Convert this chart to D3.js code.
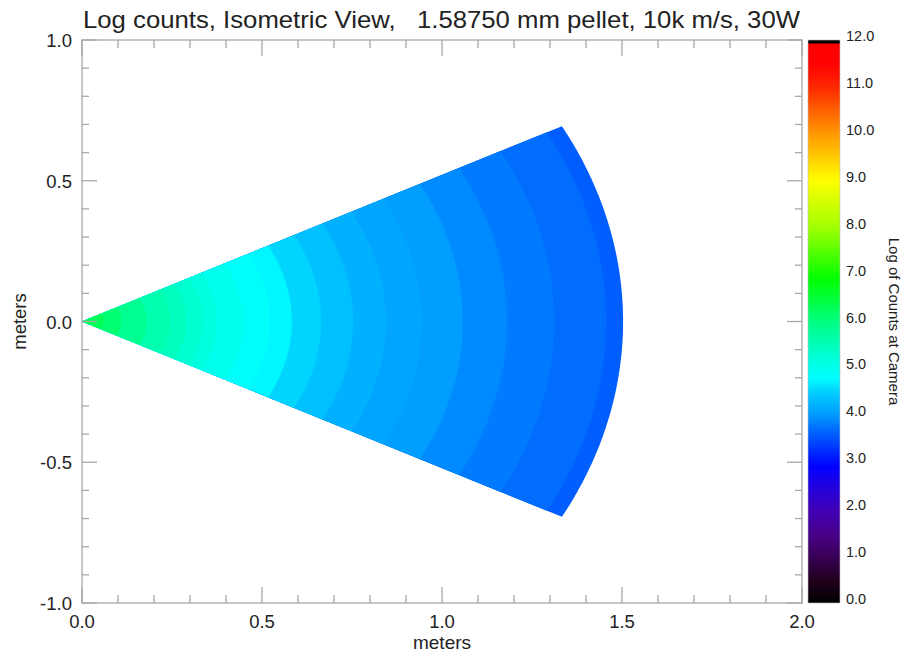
<!DOCTYPE html>
<html>
<head>
<meta charset="utf-8">
<script src="https://cdn.jsdelivr.net/npm/d3@7"></script>
<style>
  body { margin: 0; background: #fff; }
  text { font-family: "Liberation Sans", Arial, sans-serif; fill: #222; }
</style>
</head>
<body>
<div id="chart"></div>
<script>
//Dimensions of the whole picture
const width = 902;
const height = 653;

//Data
const xTicks = [0.0, 0.5, 1.0, 1.5, 2.0];
const yTicks = [-1.0, -0.5, 0.0, 0.5, 1.0];
const cbTicks = [0, 1, 2, 3, 4, 5, 6, 7, 8, 9, 10, 11, 12];

//Wedge: half opening angle (degrees) and outer radius of each band (meters)
const halfAngle = 27.5;
const bandOuter = [0.06, 0.11, 0.18, 0.245, 0.29, 0.335, 0.375, 0.447, 0.522, 0.583,
                   0.664, 0.753, 0.844, 0.944, 1.058, 1.181, 1.311, 1.456, 1.503];
//Log of counts for each band, inner to outer
const bandLog = [6.3, 6.1, 5.85, 5.6, 5.45, 5.3, 5.15, 5.0, 4.85, 4.75,
                 4.53, 4.37, 4.22, 4.12, 4.05, 3.9, 3.8, 3.7, 3.6];

//Colour table (log value -> colour)
const cmapValues = [0, 0.5, 1, 1.5, 2, 2.5, 2.9, 3.5, 4, 4.5, 4.8, 5.3, 6, 6.9, 8, 9, 10, 11, 11.5, 11.92, 11.93, 12];
const cmapColors = ["#000000", "#22001f", "#3a0058", "#48008c", "#4000b8", "#2000e0", "#0000ff", "#0050ff",
                    "#0098ff", "#00d0ff", "#00ffff", "#00ffd0", "#00ff80", "#00ff00", "#a0ff00", "#ffff00",
                    "#ff9800", "#ff2800", "#ff0000", "#ff0000", "#000000", "#000000"];

const color = d3.scaleLinear().domain(cmapValues).range(cmapColors).interpolate(d3.interpolateRgb);

//Create the svg element
const svg = d3.select("#chart").append("svg").attr("width", width).attr("height", height);

//Scales for the plot area
const x = d3.scaleLinear().domain([0, 2]).range([82, 802]);
const y = d3.scaleLinear().domain([-1, 1]).range([603, 40]);

//Draw the wedge bands, outer first so the inner ones paint over them
const line = d3.line();
const sector = r => {
    const a = halfAngle * Math.PI / 180;
    const pts = [[x(0), y(0)]];
    d3.range(0, 121).forEach(i => {
        const t = -a + 2 * a * i / 120;
        pts.push([x(r * Math.cos(t)), y(r * Math.sin(t))]);
    });
    return line(pts) + "Z";
};
const bands = bandOuter.map((r, i) => ({ r: r, v: bandLog[i] })).reverse();
svg.append("g")
    .selectAll("path")
    .data(bands)
    .enter().append("path")
    .attr("d", d => sector(d.r))
    .attr("fill", d => color(d.v));

//Frame and ticks
const axisColor = "#a8a8a8";
const frame = svg.append("g").attr("stroke", axisColor).attr("stroke-width", 1.3).attr("fill", "none");
frame.append("rect").attr("x", x(0)).attr("y", y(1)).attr("width", x(2) - x(0)).attr("height", y(-1) - y(1));

const xMinor = d3.range(0, 2.0001, 0.1);
const yMinor = d3.range(-1, 1.0001, 0.1);
const isMajor = v => Math.abs(v * 2 - Math.round(v * 2)) < 1e-6;
xMinor.forEach(v => {
    const len = isMajor(v) ? 16 : 8;
    frame.append("line").attr("x1", x(v)).attr("x2", x(v)).attr("y1", y(-1)).attr("y2", y(-1) - len);
    frame.append("line").attr("x1", x(v)).attr("x2", x(v)).attr("y1", y(1)).attr("y2", y(1) + len);
});
yMinor.forEach(v => {
    const len = isMajor(v) ? 15 : 7;
    frame.append("line").attr("y1", y(v)).attr("y2", y(v)).attr("x1", x(0)).attr("x2", x(0) + len);
    frame.append("line").attr("y1", y(v)).attr("y2", y(v)).attr("x1", x(2)).attr("x2", x(2) - len);
});

//Tick labels
svg.append("g").selectAll("text").data(xTicks).enter().append("text")
    .attr("x", d => x(d)).attr("y", 628).attr("text-anchor", "middle")
    .style("font-size", "18.5px").text(d => d.toFixed(1));
svg.append("g").selectAll("text").data(yTicks).enter().append("text")
    .attr("x", 72).attr("y", d => y(d) + 7).attr("text-anchor", "end")
    .style("font-size", "18.5px").text(d => d.toFixed(1));

//Axis titles
svg.append("text").attr("x", x(1)).attr("y", 649).attr("text-anchor", "middle")
    .style("font-size", "19px").text("meters");
svg.append("text").attr("transform", `translate(26, ${y(0)}) rotate(-90)`).attr("text-anchor", "middle")
    .style("font-size", "18.5px").text("meters");

//Title
svg.append("text").attr("x", 83).attr("y", 28)
    .attr("textLength", 717).attr("lengthAdjust", "spacingAndGlyphs")
    .style("font-size", "24px").style("white-space", "pre")
    .text("Log counts, Isometric View,   1.58750 mm pellet, 10k m/s, 30W");

//Colour bar
const cb = d3.scaleLinear().domain([0, 12]).range([603, 40]);
const grad = svg.append("defs").append("linearGradient").attr("id", "cbgrad")
    .attr("x1", 0).attr("y1", 1).attr("x2", 0).attr("y2", 0);
grad.selectAll("stop").data(cmapValues).enter().append("stop")
    .attr("offset", d => d / 12).attr("stop-color", (d, i) => cmapColors[i]);
svg.append("rect").attr("x", 808).attr("y", cb(12)).attr("width", 32).attr("height", cb(0) - cb(12))
    .attr("fill", "url(#cbgrad)").attr("stroke", "#bbb").attr("stroke-width", 0.6);

svg.append("g").selectAll("text").data(cbTicks).enter().append("text")
    .attr("x", 846).attr("y", d => cb(d) + 1).style("font-size", "14.5px")
    .text(d => d.toFixed(1));
svg.append("text").attr("transform", `translate(889, ${y(0)}) rotate(90)`).attr("text-anchor", "middle")
    .style("font-size", "15px").text("Log of Counts at Camera");
</script>
</body>
</html>
